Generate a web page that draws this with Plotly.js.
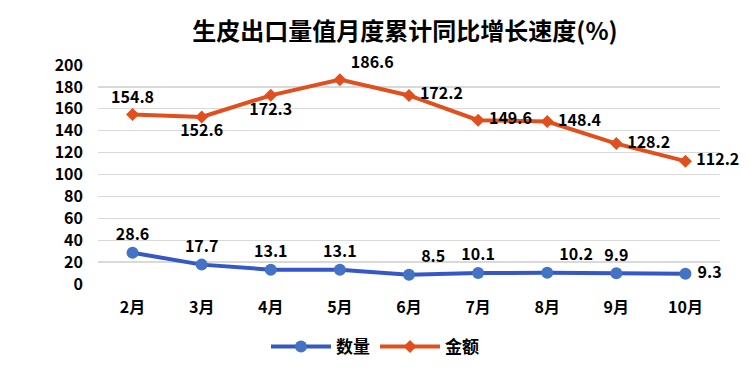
<!DOCTYPE html>
<html><head><meta charset="utf-8">
<script src="https://cdn.plot.ly/plotly-3.0.1.min.js"></script>
<style>body{margin:0;background:#fff}#c{width:750px;height:368px}</style>
</head><body><div id="c"></div>
<script>
const months = ['2月','3月','4月','5月','6月','7月','8月','9月','10月'];
const quantity = [28.6,17.7,13.1,13.1,8.5,10.1,10.2,9.9,9.3];
const amount = [154.8,152.6,172.3,186.6,172.2,149.6,148.4,128.2,112.2];
const qtyPos = ['top center','top center','top center','top center','top right','top center','top right','top center','middle right'];
const amtPos = ['top center','bottom center','bottom center','top right','middle right','middle right','middle right','middle right','middle right'];
const yTicks = [0,20,40,60,80,100,120,140,160,180,200];
const font = {family:'"Noto Sans CJK SC", "Noto Sans", sans-serif', color:'#000'};
const lbl = (v,p) => (p.indexOf('right')>=0 ? ' ' : '') + v.toFixed(1);
const data = [
 {x:months,y:quantity,name:'数量',mode:'lines+markers+text',cliponaxis:false,
  text:quantity.map((v,i)=>lbl(v,qtyPos[i])),textposition:qtyPos,
  textfont:{...font,size:16,weight:'bold'},
  line:{color:'#3558C6',width:4},marker:{color:'#4472C4',size:12,symbol:'circle'}},
 {x:months,y:amount,name:'金额',mode:'lines+markers+text',cliponaxis:false,
  text:amount.map((v,i)=>lbl(v,amtPos[i])),textposition:amtPos,
  textfont:{...font,size:16,weight:'bold'},
  line:{color:'#E0501E',width:4},marker:{color:'#E0501E',size:10,symbol:'diamond'}}
];
const layout = {
 width:750,height:368,margin:{l:98,r:30,t:65,b:84},
 paper_bgcolor:'#fff',plot_bgcolor:'#fff',
 font:font,
 title:{text:'生皮出口量值月度累计同比增长速度(%)',x:0.54,xanchor:'center',y:0.915,yanchor:'middle',font:{...font,size:24,weight:'bold'}},
 xaxis:{type:'category',showgrid:false,zeroline:false,showline:false,ticks:'',ticklabelstandoff:12,tickfont:{...font,size:16,weight:'bold'},range:[-0.5,8.5]},
 yaxis:{range:[0,200],tickvals:yTicks,showgrid:true,gridcolor:'#d9d9d9',gridwidth:1.3,zeroline:false,showline:false,ticks:'',ticklabelstandoff:14,tickfont:{...font,size:16,weight:'bold'}},
 showlegend:true,
 legend:{orientation:'h',x:0.5,xanchor:'center',xref:'container',yref:'container',y:0.057,yanchor:'middle',font:{...font,size:17,weight:'bold'},itemwidth:60},
};
Plotly.newPlot('c',data,layout,{displayModeBar:false,staticPlot:true});
</script></body></html>
